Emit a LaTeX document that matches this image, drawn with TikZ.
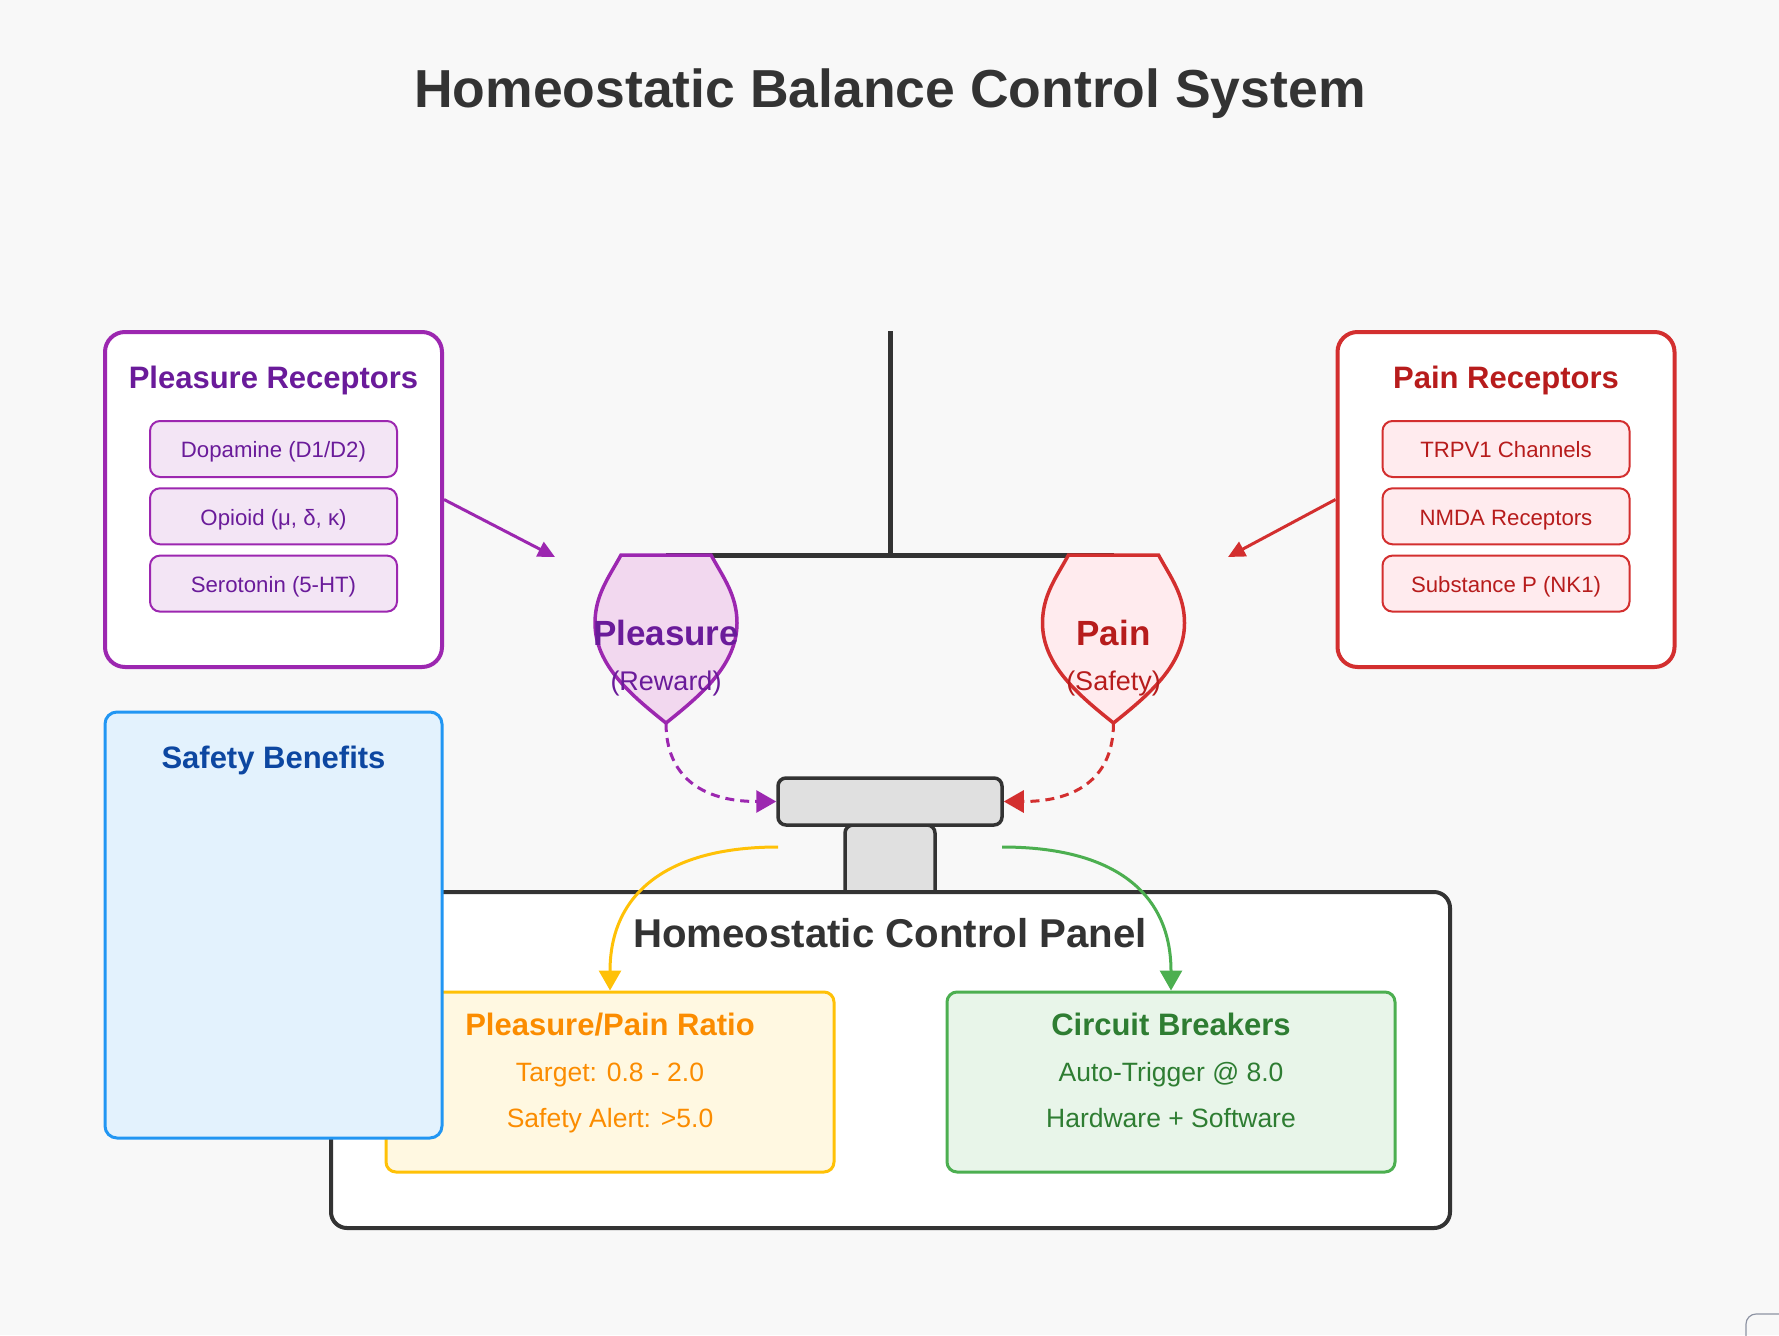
\documentclass[tikz,border=0pt]{standalone}
\usepackage{fontspec}
\setmainfont{Liberation Sans}
\usepackage{tikz}
\usetikzlibrary{arrows.meta}
\usetikzlibrary{positioning}
\definecolor{bg}{RGB}{248,248,248}
\definecolor{dark}{RGB}{51,51,51}
\definecolor{plstroke}{RGB}{156,39,176}
\definecolor{pltext}{RGB}{106,27,154}
\definecolor{plfill}{RGB}{243,229,245}
\definecolor{plcup}{RGB}{242,216,239}
\definecolor{pnstroke}{RGB}{211,47,47}
\definecolor{pntext}{RGB}{183,28,28}
\definecolor{pnfill}{RGB}{255,235,238}
\definecolor{sfstroke}{RGB}{33,150,243}
\definecolor{sffill}{RGB}{227,242,253}
\definecolor{sftext}{RGB}{13,71,161}
\definecolor{rtstroke}{RGB}{255,193,7}
\definecolor{rtfill}{RGB}{255,248,225}
\definecolor{rttext}{RGB}{251,140,0}
\definecolor{cbstroke}{RGB}{76,175,80}
\definecolor{cbfill}{RGB}{232,245,233}
\definecolor{cbtext}{RGB}{46,125,50}
\definecolor{pivotgray}{RGB}{224,224,224}
\definecolor{uigray}{RGB}{141,147,163}

\begin{document}
\begin{tikzpicture}[x=1pt,y=-1pt,
  recbox/.style={draw,rounded corners=20pt,line width=4pt,fill=white,minimum width=337pt,minimum height=335pt},
  item/.style={draw,rounded corners=10pt,line width=2pt,minimum width=247pt,minimum height=56pt,
    font=\fontsize{22.2}{26}\selectfont,text height=17.5pt,text depth=0pt},
  head/.style={anchor=base,font=\fontsize{31}{37}\selectfont\bfseries},
  body/.style={anchor=base,font=\fontsize{26.5}{32}\selectfont},
  card/.style={draw,rounded corners=10pt,line width=3pt,minimum width=448pt,minimum height=180pt},
  link/.style={-{Triangle[length=17pt,width=16pt]},line width=3pt},
  feed/.style={-{Triangle[length=20pt,width=22pt]},line width=3pt},
  cup/.pic={\path[pic actions] (-45,0) -- (45,0) .. controls (57,22) and (71,40) .. (71,68)
    .. controls (71,110) and (35,140) .. (0,168) .. controls (-35,140) and (-71,110) .. (-71,68)
    .. controls (-71,40) and (-57,22) .. cycle;}]
  \fill[bg] (0,0) rectangle (1779,1335);
  \useasboundingbox (0,0) rectangle (1779,1335);

  \node[anchor=base,font=\fontsize{53.5}{64}\selectfont\bfseries,text=dark] (title) at (890,108) {Homeostatic Balance Control System};

  \coordinate (top) at (890,331);
  \coordinate (hub) at (890,555);
  \coordinate (plhang) at (666,555);
  \coordinate (pnhang) at (1113.5,555);
  \draw[dark,line width=5pt] (top) -- (hub);
  \draw[dark,line width=5pt] (plhang) -- (pnhang);
  \pic[draw=plstroke,fill=plcup,line width=3.5pt] at (plhang) {cup};
  \pic[draw=pnstroke,fill=pnfill,line width=3.5pt] at (pnhang) {cup};
  \node[anchor=base,font=\fontsize{35}{42}\selectfont\bfseries,text=pltext] (pllabel) at (666,645) {Pleasure};
  \node[anchor=base,font=\fontsize{27}{32}\selectfont,text=pltext] (plsub) at (666,690) {(Reward)};
  \node[anchor=base,font=\fontsize{35}{42}\selectfont\bfseries,text=pntext] (pnlabel) at (1113.5,645) {Pain};
  \node[anchor=base,font=\fontsize{27}{32}\selectfont,text=pntext] (pnsub) at (1113.5,690) {(Safety)};
  \coordinate (pltip) at (666,723);
  \coordinate (pntip) at (1113.5,723);

  \node[recbox,draw=plstroke] (plbox) at (273.5,499.5) {};
  \node[head,text=pltext] (plhead) at (273.5,388) {Pleasure Receptors};
  \node[item,draw=plstroke,fill=plfill,text=pltext] (pl1) at (273.5,449) {Dopamine (D1/D2)};
  \node[item,draw=plstroke,fill=plfill,text=pltext,below=9.3pt of pl1] (pl2) {Opioid (μ, δ, κ)};
  \node[item,draw=plstroke,fill=plfill,text=pltext,below=9.3pt of pl2] (pl3) {Serotonin (5-HT)};

  \node[recbox,draw=pnstroke] (pnbox) at (1506,499.5) {};
  \node[head,text=pntext] (pnhead) at (1506,388) {Pain Receptors};
  \node[item,draw=pnstroke,fill=pnfill,text=pntext] (pn1) at (1506,449) {TRPV1 Channels};
  \node[item,draw=pnstroke,fill=pnfill,text=pntext,below=9.3pt of pn1] (pn2) {NMDA Receptors};
  \node[item,draw=pnstroke,fill=pnfill,text=pntext,below=9.3pt of pn2] (pn3) {Substance P (NK1)};

  \coordinate (plin) at (555,557);
  \coordinate (pnin) at (1228,557);
  \draw[link,plstroke] (plbox.east) -- (plin);
  \draw[link,pnstroke] (pnbox.west) -- (pnin);

  \node[draw=dark,fill=pivotgray,line width=3.5pt,rounded corners=8pt,minimum width=90pt,minimum height=80pt] (stem) at (890,865) {};
  \node[draw=dark,fill=white,line width=4pt,rounded corners=16pt,minimum width=1119pt,minimum height=336pt] (panel) at (890.5,1060) {};
  \node[draw=dark,fill=pivotgray,line width=3.5pt,rounded corners=8pt,minimum width=224pt,minimum height=47pt] (pivot) at (890,801.5) {};
  \node[anchor=base,font=\fontsize{40.2}{48}\selectfont\bfseries,text=dark] (paneltitle) at (890,947) {Homeostatic Control Panel};

  \draw[feed,plstroke,dash pattern=on 9pt off 6pt] (pltip) .. controls +(0,53) and +(-75,0) .. (pivot.west);
  \draw[feed,pnstroke,dash pattern=on 9pt off 6pt] (pntip) .. controls +(0,53) and +(75,0) .. (pivot.east);

  \node[card,draw=rtstroke,fill=rtfill] (ratio) at (610,1082) {};
  \node[head,text=rttext] (ratiohead) at (610,1035) {Pleasure/Pain Ratio};
  \node[body,text=rttext] (ratio1) at (610,1081) {Target: 0.8 - 2.0};
  \node[body,text=rttext] (ratio2) at (610,1127) {Safety Alert: >5.0};

  \node[card,draw=cbstroke,fill=cbfill] (breaker) at (1171,1082) {};
  \node[head,text=cbtext] (breakerhead) at (1171,1035) {Circuit Breakers};
  \node[body,text=cbtext] (breaker1) at (1171,1081) {Auto-Trigger @ 8.0};
  \node[body,text=cbtext] (breaker2) at (1171,1127) {Hardware + Software};

  \coordinate (rtfrom) at (778,847);
  \coordinate (cbfrom) at (1002,847);
  \draw[feed,rtstroke] (rtfrom) .. controls +(-111,0) and +(0,-97) .. (ratio.north);
  \draw[feed,cbstroke] (cbfrom) .. controls +(113,0) and +(0,-97) .. (breaker.north);

  \node[draw=sfstroke,fill=sffill,line width=3pt,rounded corners=12pt,minimum width=337pt,minimum height=426pt] (safety) at (273.5,925) {};
  \node[head,text=sftext] (safetyhead) at (273.5,768) {Safety Benefits};

  \begin{scope}
    \clip (0,0) rectangle (1779,1335);
    \draw[uigray,line width=1.2pt,rounded corners=10pt] (1746,1370) -- (1746,1314) -- (1800,1314);
    \draw[uigray,line width=1.5pt] (1771,1349) circle (9);
  \end{scope}
\end{tikzpicture}
\end{document}
